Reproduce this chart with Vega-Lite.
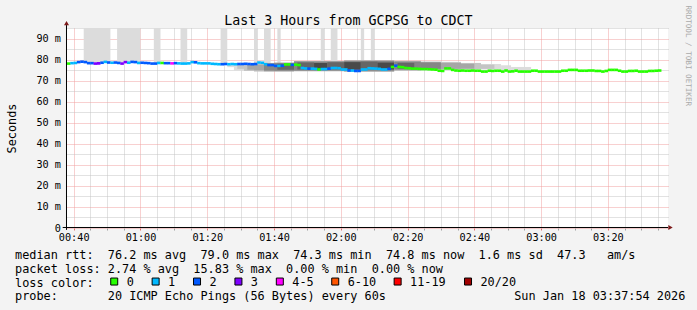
{
  "$schema": "https://vega.github.io/schema/vega-lite/v6.json",
  "width": 601,
  "height": 200,
  "autosize": {"type": "none"},
  "padding": {"left": 67, "top": 28, "right": 29, "bottom": 82},
  "background": "#f3f3f3",
  "config": {
    "view": {"stroke": null, "fill": "white"},
    "font": "DejaVu Sans Mono",
    "axis": {"labelFont": "DejaVu Sans Mono", "titleFont": "DejaVu Sans Mono", "titleFontWeight": "normal", "labelColor": "black", "titleColor": "black"}
  },
  "datasets": {
    "median": [
      {"t":"2026-01-18T00:38:30Z","v":78.1,"l":"0"},
      {"t":"2026-01-18T00:39:30Z","v":78.3,"l":"1"},
      {"t":"2026-01-18T00:40:30Z","v":78.4,"l":"1"},
      {"t":"2026-01-18T00:41:30Z","v":78.8,"l":"2"},
      {"t":"2026-01-18T00:42:30Z","v":79.0,"l":"2"},
      {"t":"2026-01-18T00:43:30Z","v":78.8,"l":"2"},
      {"t":"2026-01-18T00:44:30Z","v":78.3,"l":"2"},
      {"t":"2026-01-18T00:45:30Z","v":78.3,"l":"2"},
      {"t":"2026-01-18T00:46:30Z","v":78.1,"l":"3"},
      {"t":"2026-01-18T00:47:30Z","v":78.2,"l":"3"},
      {"t":"2026-01-18T00:48:30Z","v":78.5,"l":"2"},
      {"t":"2026-01-18T00:49:30Z","v":78.9,"l":"1"},
      {"t":"2026-01-18T00:50:30Z","v":78.6,"l":"2"},
      {"t":"2026-01-18T00:51:30Z","v":78.5,"l":"1"},
      {"t":"2026-01-18T00:52:30Z","v":78.6,"l":"2"},
      {"t":"2026-01-18T00:53:30Z","v":78.4,"l":"2"},
      {"t":"2026-01-18T00:54:30Z","v":78.1,"l":"3"},
      {"t":"2026-01-18T00:55:30Z","v":78.8,"l":"3"},
      {"t":"2026-01-18T00:56:30Z","v":78.5,"l":"1"},
      {"t":"2026-01-18T00:57:30Z","v":78.9,"l":"2"},
      {"t":"2026-01-18T00:58:30Z","v":78.8,"l":"2"},
      {"t":"2026-01-18T00:59:30Z","v":78.4,"l":"1"},
      {"t":"2026-01-18T01:00:30Z","v":78.5,"l":"2"},
      {"t":"2026-01-18T01:01:30Z","v":78.4,"l":"2"},
      {"t":"2026-01-18T01:02:30Z","v":78.3,"l":"2"},
      {"t":"2026-01-18T01:03:30Z","v":78.1,"l":"2"},
      {"t":"2026-01-18T01:04:30Z","v":78.1,"l":"2"},
      {"t":"2026-01-18T01:05:30Z","v":78.4,"l":"1"},
      {"t":"2026-01-18T01:06:30Z","v":78.4,"l":"0"},
      {"t":"2026-01-18T01:07:30Z","v":78.3,"l":"2"},
      {"t":"2026-01-18T01:08:30Z","v":78.3,"l":"2"},
      {"t":"2026-01-18T01:09:30Z","v":78.2,"l":"4-5"},
      {"t":"2026-01-18T01:10:30Z","v":78.3,"l":"2"},
      {"t":"2026-01-18T01:11:30Z","v":78.2,"l":"1"},
      {"t":"2026-01-18T01:12:30Z","v":78.1,"l":"1"},
      {"t":"2026-01-18T01:13:30Z","v":78.1,"l":"1"},
      {"t":"2026-01-18T01:14:30Z","v":78.2,"l":"1"},
      {"t":"2026-01-18T01:15:30Z","v":78.8,"l":"1"},
      {"t":"2026-01-18T01:16:30Z","v":78.7,"l":"2"},
      {"t":"2026-01-18T01:17:30Z","v":78.3,"l":"1"},
      {"t":"2026-01-18T01:18:30Z","v":78.2,"l":"1"},
      {"t":"2026-01-18T01:19:30Z","v":78.2,"l":"1"},
      {"t":"2026-01-18T01:20:30Z","v":78.2,"l":"1"},
      {"t":"2026-01-18T01:21:30Z","v":78.0,"l":"1"},
      {"t":"2026-01-18T01:22:30Z","v":77.9,"l":"1"},
      {"t":"2026-01-18T01:23:30Z","v":77.8,"l":"1"},
      {"t":"2026-01-18T01:24:30Z","v":77.8,"l":"2"},
      {"t":"2026-01-18T01:25:30Z","v":77.9,"l":"2"},
      {"t":"2026-01-18T01:26:30Z","v":77.8,"l":"1"},
      {"t":"2026-01-18T01:27:30Z","v":77.9,"l":"1"},
      {"t":"2026-01-18T01:28:30Z","v":77.8,"l":"1"},
      {"t":"2026-01-18T01:29:30Z","v":77.9,"l":"2"},
      {"t":"2026-01-18T01:30:30Z","v":77.9,"l":"2"},
      {"t":"2026-01-18T01:31:30Z","v":78.0,"l":"2"},
      {"t":"2026-01-18T01:32:30Z","v":77.9,"l":"2"},
      {"t":"2026-01-18T01:33:30Z","v":77.8,"l":"2"},
      {"t":"2026-01-18T01:34:30Z","v":77.9,"l":"2"},
      {"t":"2026-01-18T01:35:30Z","v":78.6,"l":"1"},
      {"t":"2026-01-18T01:36:30Z","v":78.5,"l":"1"},
      {"t":"2026-01-18T01:37:30Z","v":77.8,"l":"1"},
      {"t":"2026-01-18T01:38:30Z","v":77.4,"l":"2"},
      {"t":"2026-01-18T01:39:30Z","v":77.4,"l":"2"},
      {"t":"2026-01-18T01:40:30Z","v":77.0,"l":"2"},
      {"t":"2026-01-18T01:41:30Z","v":77.0,"l":"1"},
      {"t":"2026-01-18T01:42:30Z","v":77.1,"l":"2"},
      {"t":"2026-01-18T01:43:30Z","v":77.7,"l":"0"},
      {"t":"2026-01-18T01:44:30Z","v":77.7,"l":"0"},
      {"t":"2026-01-18T01:45:30Z","v":77.5,"l":"2"},
      {"t":"2026-01-18T01:46:30Z","v":77.6,"l":"0"},
      {"t":"2026-01-18T01:47:30Z","v":77.4,"l":"0"},
      {"t":"2026-01-18T01:48:30Z","v":76.0,"l":"1"},
      {"t":"2026-01-18T01:49:30Z","v":75.8,"l":"1"},
      {"t":"2026-01-18T01:50:30Z","v":75.7,"l":"2"},
      {"t":"2026-01-18T01:51:30Z","v":75.7,"l":"1"},
      {"t":"2026-01-18T01:52:30Z","v":75.6,"l":"1"},
      {"t":"2026-01-18T01:53:30Z","v":75.3,"l":"0"},
      {"t":"2026-01-18T01:54:30Z","v":75.5,"l":"1"},
      {"t":"2026-01-18T01:55:30Z","v":75.5,"l":"1"},
      {"t":"2026-01-18T01:56:30Z","v":75.7,"l":"2"},
      {"t":"2026-01-18T01:57:30Z","v":76.0,"l":"1"},
      {"t":"2026-01-18T01:58:30Z","v":76.0,"l":"1"},
      {"t":"2026-01-18T01:59:30Z","v":75.9,"l":"1"},
      {"t":"2026-01-18T02:00:30Z","v":75.3,"l":"1"},
      {"t":"2026-01-18T02:01:30Z","v":75.3,"l":"1"},
      {"t":"2026-01-18T02:02:30Z","v":74.8,"l":"2"},
      {"t":"2026-01-18T02:03:30Z","v":74.8,"l":"1"},
      {"t":"2026-01-18T02:04:30Z","v":74.6,"l":"2"},
      {"t":"2026-01-18T02:05:30Z","v":74.6,"l":"2"},
      {"t":"2026-01-18T02:06:30Z","v":75.3,"l":"1"},
      {"t":"2026-01-18T02:07:30Z","v":75.3,"l":"1"},
      {"t":"2026-01-18T02:08:30Z","v":75.9,"l":"1"},
      {"t":"2026-01-18T02:09:30Z","v":75.8,"l":"1"},
      {"t":"2026-01-18T02:10:30Z","v":75.7,"l":"1"},
      {"t":"2026-01-18T02:11:30Z","v":75.6,"l":"1"},
      {"t":"2026-01-18T02:12:30Z","v":75.3,"l":"1"},
      {"t":"2026-01-18T02:13:30Z","v":75.3,"l":"1"},
      {"t":"2026-01-18T02:14:30Z","v":75.6,"l":"2"},
      {"t":"2026-01-18T02:15:30Z","v":76.5,"l":"0"},
      {"t":"2026-01-18T02:16:30Z","v":77.1,"l":"2"},
      {"t":"2026-01-18T02:17:30Z","v":76.5,"l":"0"},
      {"t":"2026-01-18T02:18:30Z","v":76.4,"l":"0"},
      {"t":"2026-01-18T02:19:30Z","v":76.0,"l":"0"},
      {"t":"2026-01-18T02:20:30Z","v":75.9,"l":"0"},
      {"t":"2026-01-18T02:21:30Z","v":75.7,"l":"0"},
      {"t":"2026-01-18T02:22:30Z","v":75.7,"l":"0"},
      {"t":"2026-01-18T02:23:30Z","v":75.6,"l":"0"},
      {"t":"2026-01-18T02:24:30Z","v":75.5,"l":"0"},
      {"t":"2026-01-18T02:25:30Z","v":75.5,"l":"0"},
      {"t":"2026-01-18T02:26:30Z","v":75.4,"l":"0"},
      {"t":"2026-01-18T02:27:30Z","v":75.3,"l":"0"},
      {"t":"2026-01-18T02:28:30Z","v":75.2,"l":"0"},
      {"t":"2026-01-18T02:29:30Z","v":74.7,"l":"0"},
      {"t":"2026-01-18T02:30:30Z","v":74.6,"l":"0"},
      {"t":"2026-01-18T02:31:30Z","v":75.8,"l":"0"},
      {"t":"2026-01-18T02:32:30Z","v":75.8,"l":"0"},
      {"t":"2026-01-18T02:33:30Z","v":75.1,"l":"0"},
      {"t":"2026-01-18T02:34:30Z","v":74.8,"l":"0"},
      {"t":"2026-01-18T02:35:30Z","v":74.7,"l":"0"},
      {"t":"2026-01-18T02:36:30Z","v":74.8,"l":"0"},
      {"t":"2026-01-18T02:37:30Z","v":74.7,"l":"0"},
      {"t":"2026-01-18T02:38:30Z","v":74.7,"l":"0"},
      {"t":"2026-01-18T02:39:30Z","v":74.8,"l":"0"},
      {"t":"2026-01-18T02:40:30Z","v":74.7,"l":"0"},
      {"t":"2026-01-18T02:41:30Z","v":74.7,"l":"0"},
      {"t":"2026-01-18T02:42:30Z","v":74.3,"l":"0"},
      {"t":"2026-01-18T02:43:30Z","v":74.3,"l":"0"},
      {"t":"2026-01-18T02:44:30Z","v":74.7,"l":"0"},
      {"t":"2026-01-18T02:45:30Z","v":74.6,"l":"0"},
      {"t":"2026-01-18T02:46:30Z","v":74.7,"l":"0"},
      {"t":"2026-01-18T02:47:30Z","v":74.7,"l":"0"},
      {"t":"2026-01-18T02:48:30Z","v":74.3,"l":"0"},
      {"t":"2026-01-18T02:49:30Z","v":74.8,"l":"0"},
      {"t":"2026-01-18T02:50:30Z","v":74.3,"l":"0"},
      {"t":"2026-01-18T02:51:30Z","v":74.4,"l":"0"},
      {"t":"2026-01-18T02:52:30Z","v":74.7,"l":"0"},
      {"t":"2026-01-18T02:53:30Z","v":74.3,"l":"0"},
      {"t":"2026-01-18T02:54:30Z","v":74.3,"l":"0"},
      {"t":"2026-01-18T02:55:30Z","v":74.3,"l":"0"},
      {"t":"2026-01-18T02:56:30Z","v":74.3,"l":"0"},
      {"t":"2026-01-18T02:57:30Z","v":74.7,"l":"0"},
      {"t":"2026-01-18T02:58:30Z","v":74.7,"l":"0"},
      {"t":"2026-01-18T02:59:30Z","v":74.3,"l":"0"},
      {"t":"2026-01-18T03:00:30Z","v":74.3,"l":"0"},
      {"t":"2026-01-18T03:01:30Z","v":74.3,"l":"0"},
      {"t":"2026-01-18T03:02:30Z","v":74.3,"l":"0"},
      {"t":"2026-01-18T03:03:30Z","v":74.3,"l":"0"},
      {"t":"2026-01-18T03:04:30Z","v":74.3,"l":"0"},
      {"t":"2026-01-18T03:05:30Z","v":74.3,"l":"0"},
      {"t":"2026-01-18T03:06:30Z","v":74.7,"l":"0"},
      {"t":"2026-01-18T03:07:30Z","v":74.7,"l":"0"},
      {"t":"2026-01-18T03:08:30Z","v":75.1,"l":"0"},
      {"t":"2026-01-18T03:09:30Z","v":75.1,"l":"0"},
      {"t":"2026-01-18T03:10:30Z","v":75.1,"l":"0"},
      {"t":"2026-01-18T03:11:30Z","v":74.7,"l":"0"},
      {"t":"2026-01-18T03:12:30Z","v":74.7,"l":"0"},
      {"t":"2026-01-18T03:13:30Z","v":74.7,"l":"0"},
      {"t":"2026-01-18T03:14:30Z","v":74.8,"l":"0"},
      {"t":"2026-01-18T03:15:30Z","v":74.8,"l":"0"},
      {"t":"2026-01-18T03:16:30Z","v":74.6,"l":"0"},
      {"t":"2026-01-18T03:17:30Z","v":74.6,"l":"0"},
      {"t":"2026-01-18T03:18:30Z","v":74.3,"l":"0"},
      {"t":"2026-01-18T03:19:30Z","v":74.6,"l":"0"},
      {"t":"2026-01-18T03:20:30Z","v":75.1,"l":"0"},
      {"t":"2026-01-18T03:21:30Z","v":75.1,"l":"0"},
      {"t":"2026-01-18T03:22:30Z","v":75.1,"l":"0"},
      {"t":"2026-01-18T03:23:30Z","v":74.7,"l":"0"},
      {"t":"2026-01-18T03:24:30Z","v":74.3,"l":"0"},
      {"t":"2026-01-18T03:25:30Z","v":74.3,"l":"0"},
      {"t":"2026-01-18T03:26:30Z","v":74.6,"l":"0"},
      {"t":"2026-01-18T03:27:30Z","v":74.6,"l":"0"},
      {"t":"2026-01-18T03:28:30Z","v":74.7,"l":"0"},
      {"t":"2026-01-18T03:29:30Z","v":74.3,"l":"0"},
      {"t":"2026-01-18T03:30:30Z","v":74.3,"l":"0"},
      {"t":"2026-01-18T03:31:30Z","v":74.3,"l":"0"},
      {"t":"2026-01-18T03:32:30Z","v":74.6,"l":"0"},
      {"t":"2026-01-18T03:33:30Z","v":74.6,"l":"0"},
      {"t":"2026-01-18T03:34:30Z","v":74.7,"l":"0"},
      {"t":"2026-01-18T03:35:30Z","v":74.8,"l":"0"}
    ],
    "smoke": [
      {"t0":"2026-01-18T00:43:00Z","t1":"2026-01-18T00:51:00Z","lo":78.6,"hi":95,"s":"1"},
      {"t0":"2026-01-18T00:53:00Z","t1":"2026-01-18T01:00:00Z","lo":78.6,"hi":95,"s":"1"},
      {"t0":"2026-01-18T01:04:00Z","t1":"2026-01-18T01:06:00Z","lo":78.4,"hi":95,"s":"1"},
      {"t0":"2026-01-18T01:12:00Z","t1":"2026-01-18T01:14:00Z","lo":78.4,"hi":95,"s":"1"},
      {"t0":"2026-01-18T01:24:00Z","t1":"2026-01-18T01:26:00Z","lo":78.3,"hi":95,"s":"1"},
      {"t0":"2026-01-18T01:34:00Z","t1":"2026-01-18T01:35:00Z","lo":78.3,"hi":95,"s":"1"},
      {"t0":"2026-01-18T01:37:00Z","t1":"2026-01-18T01:39:00Z","lo":78.3,"hi":95,"s":"1"},
      {"t0":"2026-01-18T01:41:00Z","t1":"2026-01-18T01:42:00Z","lo":78.4,"hi":95,"s":"1"},
      {"t0":"2026-01-18T01:54:00Z","t1":"2026-01-18T01:55:00Z","lo":79.0,"hi":95,"s":"1"},
      {"t0":"2026-01-18T01:57:00Z","t1":"2026-01-18T01:59:00Z","lo":79.0,"hi":95,"s":"1"},
      {"t0":"2026-01-18T02:06:00Z","t1":"2026-01-18T02:07:00Z","lo":79.3,"hi":95,"s":"1"},
      {"t0":"2026-01-18T02:09:00Z","t1":"2026-01-18T02:10:00Z","lo":79.3,"hi":95,"s":"1"},
      {"t0":"2026-01-18T01:26:00Z","t1":"2026-01-18T01:28:00Z","lo":76.4,"hi":77.7,"s":"1"},
      {"t0":"2026-01-18T01:28:00Z","t1":"2026-01-18T01:31:00Z","lo":74.8,"hi":77.9,"s":"1"},
      {"t0":"2026-01-18T01:29:00Z","t1":"2026-01-18T01:31:00Z","lo":75.6,"hi":77.6,"s":"2"},
      {"t0":"2026-01-18T01:31:00Z","t1":"2026-01-18T01:34:00Z","lo":74.6,"hi":77.8,"s":"2"},
      {"t0":"2026-01-18T01:32:00Z","t1":"2026-01-18T01:34:00Z","lo":75.2,"hi":77.5,"s":"3"},
      {"t0":"2026-01-18T01:34:00Z","t1":"2026-01-18T01:37:00Z","lo":74.3,"hi":78.0,"s":"2"},
      {"t0":"2026-01-18T01:34:00Z","t1":"2026-01-18T01:37:00Z","lo":74.9,"hi":77.6,"s":"3"},
      {"t0":"2026-01-18T01:37:00Z","t1":"2026-01-18T01:40:00Z","lo":74.3,"hi":78.4,"s":"3"},
      {"t0":"2026-01-18T01:37:00Z","t1":"2026-01-18T01:40:00Z","lo":74.8,"hi":78.1,"s":"4"},
      {"t0":"2026-01-18T01:40:00Z","t1":"2026-01-18T01:46:00Z","lo":74.3,"hi":78.6,"s":"3"},
      {"t0":"2026-01-18T01:40:00Z","t1":"2026-01-18T01:46:00Z","lo":74.7,"hi":78.3,"s":"4"},
      {"t0":"2026-01-18T01:41:00Z","t1":"2026-01-18T01:46:00Z","lo":75.2,"hi":78.0,"s":"5"},
      {"t0":"2026-01-18T01:46:00Z","t1":"2026-01-18T02:01:00Z","lo":74.5,"hi":79.3,"s":"3"},
      {"t0":"2026-01-18T01:46:00Z","t1":"2026-01-18T02:01:00Z","lo":74.8,"hi":79.0,"s":"4"},
      {"t0":"2026-01-18T01:47:00Z","t1":"2026-01-18T01:52:00Z","lo":75.3,"hi":78.6,"s":"5"},
      {"t0":"2026-01-18T01:52:00Z","t1":"2026-01-18T01:56:00Z","lo":75.2,"hi":78.4,"s":"6"},
      {"t0":"2026-01-18T01:56:00Z","t1":"2026-01-18T02:01:00Z","lo":75.4,"hi":78.7,"s":"5"},
      {"t0":"2026-01-18T02:01:00Z","t1":"2026-01-18T02:16:00Z","lo":74.2,"hi":79.7,"s":"3"},
      {"t0":"2026-01-18T02:01:00Z","t1":"2026-01-18T02:16:00Z","lo":74.7,"hi":79.3,"s":"4"},
      {"t0":"2026-01-18T02:01:00Z","t1":"2026-01-18T02:06:00Z","lo":75.2,"hi":78.8,"s":"6"},
      {"t0":"2026-01-18T02:06:00Z","t1":"2026-01-18T02:11:00Z","lo":75.4,"hi":79.0,"s":"5"},
      {"t0":"2026-01-18T02:11:00Z","t1":"2026-01-18T02:16:00Z","lo":75.3,"hi":78.6,"s":"6"},
      {"t0":"2026-01-18T02:16:00Z","t1":"2026-01-18T02:24:00Z","lo":74.8,"hi":79.4,"s":"3"},
      {"t0":"2026-01-18T02:16:00Z","t1":"2026-01-18T02:24:00Z","lo":75.3,"hi":78.9,"s":"4"},
      {"t0":"2026-01-18T02:17:00Z","t1":"2026-01-18T02:22:00Z","lo":75.7,"hi":78.4,"s":"5"},
      {"t0":"2026-01-18T02:24:00Z","t1":"2026-01-18T02:30:00Z","lo":75.2,"hi":79.0,"s":"3"},
      {"t0":"2026-01-18T02:24:00Z","t1":"2026-01-18T02:30:00Z","lo":75.6,"hi":78.6,"s":"4"},
      {"t0":"2026-01-18T02:30:00Z","t1":"2026-01-18T02:36:00Z","lo":75.2,"hi":78.9,"s":"2"},
      {"t0":"2026-01-18T02:30:00Z","t1":"2026-01-18T02:36:00Z","lo":75.6,"hi":78.4,"s":"3"},
      {"t0":"2026-01-18T02:36:00Z","t1":"2026-01-18T02:42:00Z","lo":75.4,"hi":78.4,"s":"2"},
      {"t0":"2026-01-18T02:36:00Z","t1":"2026-01-18T02:40:00Z","lo":75.7,"hi":78.0,"s":"3"},
      {"t0":"2026-01-18T02:42:00Z","t1":"2026-01-18T02:48:00Z","lo":75.3,"hi":77.9,"s":"1"},
      {"t0":"2026-01-18T02:42:00Z","t1":"2026-01-18T02:46:00Z","lo":75.6,"hi":77.6,"s":"2"},
      {"t0":"2026-01-18T02:48:00Z","t1":"2026-01-18T02:51:00Z","lo":75.0,"hi":77.3,"s":"1"},
      {"t0":"2026-01-18T02:51:00Z","t1":"2026-01-18T02:57:00Z","lo":74.9,"hi":76.5,"s":"1"}
    ]
  },
  "resolve": {"axis": {"x": "independent", "y": "independent"}},
  "layer": [
    {
      "data": {"name": "smoke"},
      "mark": {"type": "rect", "clip": true},
      "encoding": {
        "x": {"field": "t0", "type": "temporal", "scale": {"type": "utc", "domain": [1768696680000, 1768707480000]},
          "axis": {"orient": "top", "labels": false, "ticks": false, "domain": false, "grid": false,
            "title": "Last 3 Hours from GCPSG to CDCT", "titleFontSize": 13.3, "titleX": 280.9, "titleY": -4,
            "titleAlign": "center", "titleBaseline": "alphabetic", "titleAngle": 0, "titleLimit": 1000}},
        "x2": {"field": "t1"},
        "y": {"field": "lo", "type": "quantitative", "scale": {"domain": [0, 95], "nice": false},
          "axis": {"orient": "right", "labels": false, "ticks": false, "domain": false, "grid": false,
            "title": "RRDTOOL / TOBI OETIKER", "titleFontSize": 7.6, "titleColor": "#aaaaaa", "titleX": 19.5, "titleY": -23,
            "titleAngle": 90, "titleAlign": "left", "titleBaseline": "middle", "titleLimit": 1000}},
        "y2": {"field": "hi"},
        "fill": {"field": "s", "type": "nominal",
          "scale": {"domain": ["1","2","3","4","5","6","7"], "range": ["#dcdcdc","#c4c4c4","#a6a6a6","#868686","#666666","#4a4a4a","#383838"]},
          "legend": null}
      }
    },
    {
      "data": {"name": "median"},
      "mark": {"type": "tick", "orient": "horizontal", "size": 3.6, "thickness": 2.6, "opacity": 1},
      "encoding": {
        "x": {"field": "t", "type": "temporal",
          "scale": {"type": "utc", "domain": [1768696680000, 1768707480000]},
          "axis": {
            "orient": "bottom",
            "values": [1768696800000,1768697100000,1768697400000,1768697700000,1768698000000,1768698300000,1768698600000,1768698900000,1768699200000,1768699500000,1768699800000,1768700100000,1768700400000,1768700700000,1768701000000,1768701300000,1768701600000,1768701900000,1768702200000,1768702500000,1768702800000,1768703100000,1768703400000,1768703700000,1768704000000,1768704300000,1768704600000,1768704900000,1768705200000,1768705500000,1768705800000,1768706100000,1768706400000,1768706700000,1768707000000,1768707300000],
            "tickCount": 100,
            "labelExpr": "utcminutes(datum.value) % 20 === 0 ? utcFormat(datum.value, '%H:%M') : ''",
            "labelFontSize": 10.2, "labelBaseline": "alphabetic", "labelPadding": 10, "labelOverlap": false, "labelFlush": false,
            "ticks": true, "tickSize": 2,
            "tickColor": {"condition": {"test": "utcminutes(datum.value) % 20 === 0", "value": "#e07070"}, "value": "#a0a0a0"},
            "domain": false,
            "grid": true, "gridDash": [1, 1], "gridWidth": 1, "gridOpacity": 1,
            "gridColor": {"condition": {"test": "utcminutes(datum.value) % 20 === 0", "value": "#f0a0a0"}, "value": "#c4c4c4"},
            "title": [
              "median rtt:\u00a0\u00a076.2 ms avg\u00a0\u00a079.0 ms max\u00a0\u00a074.3 ms min\u00a0\u00a074.8 ms now\u00a0\u00a01.6 ms sd\u00a0\u00a047.3\u00a0\u00a0\u00a0am/s",
              "packet loss: 2.74 % avg\u00a0\u00a015.83 % max\u00a0\u00a00.00 % min\u00a0\u00a00.00 % now",
              "loss color:",
              "probe:\u00a0\u00a0\u00a0\u00a0\u00a0\u00a0\u00a020 ICMP Echo Pings (56 Bytes) every 60s\u00a0\u00a0\u00a0\u00a0\u00a0\u00a0\u00a0\u00a0\u00a0\u00a0\u00a0\u00a0\u00a0\u00a0\u00a0\u00a0\u00a0\u00a0Sun Jan 18 03:37:54 2026"
            ],
            "titleFontSize": 11.85, "titleX": -52.4, "titleY": 21.3, "titleAlign": "left", "titleBaseline": "top",
            "titleLineHeight": 13.9, "titleLimit": 1000, "titleAngle": 0
          }},
        "y": {"field": "v", "type": "quantitative", "scale": {"domain": [0, 95], "nice": false},
          "axis": {
            "orient": "left",
            "values": [0,5,10,15,20,25,30,35,40,45,50,55,60,65,70,75,80,85,90,95],
            "tickCount": 100,
            "labelExpr": "datum.value % 10 === 0 ? (datum.value === 0 ? '0' : datum.value + ' m') : ''",
            "labelFontSize": 10.2, "labelPadding": 6.5, "labelOverlap": false,
            "ticks": false, "domain": false,
            "grid": true, "gridDash": [1, 1], "gridWidth": 1, "gridOpacity": 1,
            "gridColor": {"condition": {"test": "datum.value % 10 === 0", "value": "#f0a0a0"}, "value": "#c4c4c4"},
            "title": "Seconds", "titleFontSize": 11.85, "titleX": -56, "titleY": 100, "titleAngle": -90,
            "titleAlign": "center", "titleBaseline": "middle", "titleLimit": 1000
          }},
        "color": {"field": "l", "type": "nominal",
          "scale": {"domain": ["0","1","2","3","4-5","6-10","11-19","20/20"],
                    "range": ["#26ff00","#00b8ff","#0059ff","#7e00ff","#ff00ff","#ff5500","#ff0000","#a10000"]},
          "legend": {
            "orient": "none", "legendX": 41.3, "legendY": 247.5, "direction": "horizontal", "title": null,
            "symbolType": "square", "symbolSize": 49, "symbolStrokeWidth": 1, "symbolStrokeColor": "black", "symbolOpacity": 1,
            "labelFont": "DejaVu Sans Mono", "labelFontSize": 11.85, "labelColor": "black", "labelOffset": 6.5,
            "columnPadding": 15.4, "padding": 0, "labelLimit": 200
          }}
      }
    },
    {
      "data": {"name": "median"},
      "transform": [{"sample": 1}],
      "mark": {"type": "rule", "color": "black", "strokeWidth": 1},
      "encoding": {
        "x": {"datum": 1768696671000, "type": "temporal", "axis": null},
        "y": {"datum": -0.9, "type": "quantitative", "axis": null},
        "y2": {"datum": 96.4}
      }
    },
    {
      "data": {"name": "median"},
      "transform": [{"sample": 1}],
      "mark": {"type": "rule", "color": "black", "strokeWidth": 1},
      "encoding": {
        "x": {"datum": 1768696603000, "type": "temporal", "axis": null},
        "x2": {"datum": 1768707480000},
        "y": {"datum": 0.24, "type": "quantitative", "axis": null}
      }
    },
    {
      "data": {"name": "median"},
      "transform": [{"sample": 1}],
      "mark": {"type": "point", "shape": "triangle-up", "filled": true, "size": 25, "color": "#7d1a1a", "opacity": 1},
      "encoding": {
        "x": {"datum": 1768696671000, "type": "temporal", "axis": null},
        "y": {"datum": 97.3, "type": "quantitative", "axis": null}
      }
    },
    {
      "data": {"name": "median"},
      "transform": [{"sample": 1}],
      "mark": {"type": "point", "shape": "triangle-right", "filled": true, "size": 25, "color": "#7d1a1a", "opacity": 1},
      "encoding": {
        "x": {"datum": 1768707525000, "type": "temporal", "axis": null},
        "y": {"datum": 0.24, "type": "quantitative", "axis": null}
      }
    }
  ]
}
